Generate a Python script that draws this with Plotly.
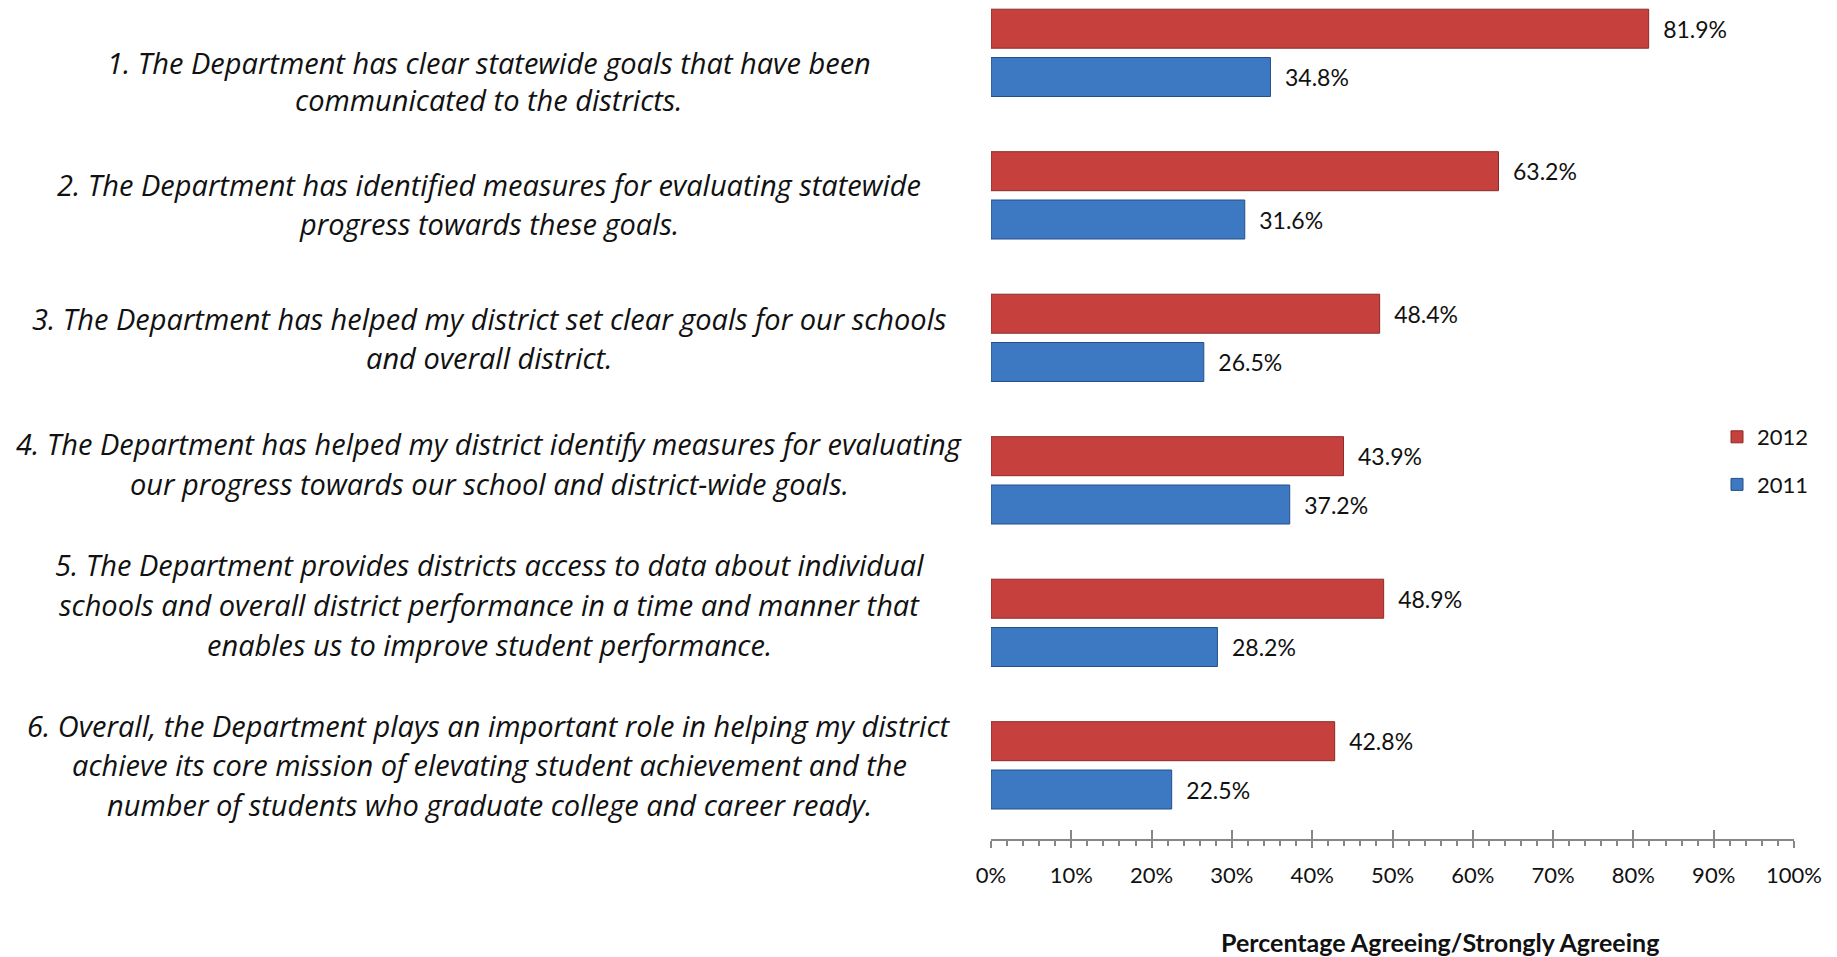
import plotly.graph_objects as go

# ---------------- data ----------------
questions = [
    ["1. The Department has clear statewide goals that have been",
     "communicated to the districts."],
    ["2. The Department has identified measures for evaluating statewide",
     "progress towards these goals."],
    ["3. The Department has helped my district set clear goals for our schools",
     "and overall district."],
    ["4. The Department has helped my district identify measures for evaluating",
     "our progress towards our school and district-wide goals."],
    ["5. The Department provides districts access to data about individual",
     "schools and overall district performance in a time and manner that",
     "enables us to improve student performance."],
    ["6. Overall, the Department plays an important role in helping my district",
     "achieve its core mission of elevating student achievement and the",
     "number of students who graduate college and career ready."],
]
series_names = ["2012", "2011"]
values_2012 = [81.9, 63.2, 48.4, 43.9, 48.9, 42.8]
values_2011 = [34.8, 31.6, 26.5, 37.2, 28.2, 22.5]
x_tick_values = [0, 10, 20, 30, 40, 50, 60, 70, 80, 90, 100]
x_tick_labels = [f"{v}%" for v in x_tick_values]
x_axis_title = "Percentage Agreeing/Strongly Agreeing"

# ---------------- layout constants (page pixels) ----------------
OFF = 8                      # default body margin of the html page
W, H = 1837 - OFF, 957 - OFF
PLOT_L, PLOT_R = 991 - OFF, 1794 - OFF
PLOT_T, PLOT_B = 0, 839 - OFF
PW = PLOT_R - PLOT_L
PH = PLOT_B - PLOT_T
FONT = "Lato"
LABEL_FONT = "Open Sans"
TXT = "#111111"

# page-pixel rows of each text line of the question labels
label_line_px = [
    [62, 100],
    [184.5, 223],
    [318, 357.5],
    [443, 483],
    [564, 604.5, 644],
    [725.5, 764, 804],
]
label_center_px = 489

def px_to_paper_x(px):
    return (px - OFF - PLOT_L) / PW

def px_to_paper_y(py):
    return (PLOT_B - (py - OFF)) / PH

cat_pos = list(range(len(questions)))

colors = {"2012": "#C6403D", "2011": "#3D79C3"}
outline = {"2012": "#8A2A28", "2011": "#254F88"}

fig = go.Figure()
for name, vals in zip(series_names, [values_2012, values_2011]):
    fig.add_trace(go.Bar(
        name=name,
        legendgroup=name,
        orientation="h",
        x=vals,
        y=cat_pos,
        marker=dict(color=colors[name], line=dict(color=outline[name], width=1)),
        text=["\u2002" + f"{v:.1f}%" for v in vals],
        textposition="outside",
        cliponaxis=False,
        textfont=dict(family=FONT, size=23, color=TXT),
        hoverinfo="x+name",
    ))

annotations = []
for lines, ys in zip(questions, label_line_px):
    for line, ypx in zip(lines, ys):
        annotations.append(dict(
            text=line, xref="paper", yref="paper",
            x=px_to_paper_x(label_center_px), y=px_to_paper_y(ypx),
            xanchor="center", yanchor="middle", showarrow=False,
            font=dict(family=LABEL_FONT, size=29, color=TXT, style="italic"),
        ))

annotations.append(dict(
    text="<b>" + x_axis_title + "</b>", xref="paper", yref="paper",
    x=px_to_paper_x(1440), y=px_to_paper_y(942), xanchor="center", yanchor="middle",
    showarrow=False, font=dict(family=FONT, size=25, color=TXT),
))

# category spacing in page pixels -> y range
cat_step = 142.5
first_center = 52.85 - OFF
y_top = (PLOT_T - first_center) / cat_step
y_bot = (PLOT_B - first_center) / cat_step

fig.update_layout(
    width=W, height=H,
    margin=dict(l=PLOT_L, r=W - PLOT_R, t=PLOT_T, b=H - PLOT_B, pad=0),
    paper_bgcolor="white", plot_bgcolor="white",
    barmode="group", bargap=0.322, bargroupgap=0.193,
    showlegend=True,
    legend=dict(
        x=px_to_paper_x(1717), y=px_to_paper_y(461),
        xanchor="left", yanchor="middle",
        traceorder="grouped", tracegroupgap=16,
        font=dict(family=FONT, size=22, color=TXT),
        bgcolor="rgba(0,0,0,0)",
    ),
    xaxis=dict(
        range=[0, 100], tickvals=x_tick_values, ticktext=x_tick_labels,
        showgrid=False, zeroline=False,
        showline=True, linecolor="#878787", linewidth=2,
        ticks="outside", ticklen=7, tickwidth=2, tickcolor="#878787",
        minor=dict(dtick=2, ticks="outside", ticklen=5, tickwidth=1.5, tickcolor="#878787"),
        ticklabelstandoff=9,
        tickfont=dict(family=FONT, size=22, color=TXT),
        fixedrange=True,
    ),
    xaxis2=dict(
        range=[0, 100], overlaying="x", anchor="y", side="bottom",
        tickvals=x_tick_values, showticklabels=False, showgrid=False,
        zeroline=False, showline=False,
        ticks="inside", ticklen=9, tickwidth=2, tickcolor="#878787",
    ),
    yaxis=dict(
        range=[y_bot, y_top], showticklabels=False, showgrid=False,
        zeroline=False, showline=False, ticks="", fixedrange=True,
    ),
    annotations=annotations,
)

# invisible helper so the crossing major ticks (xaxis2) are drawn
fig.add_trace(go.Scatter(x=[0], y=[0], xaxis="x2", mode="markers",
                         marker=dict(opacity=0), showlegend=False, hoverinfo="skip"))

fig.write_html("out.html")
